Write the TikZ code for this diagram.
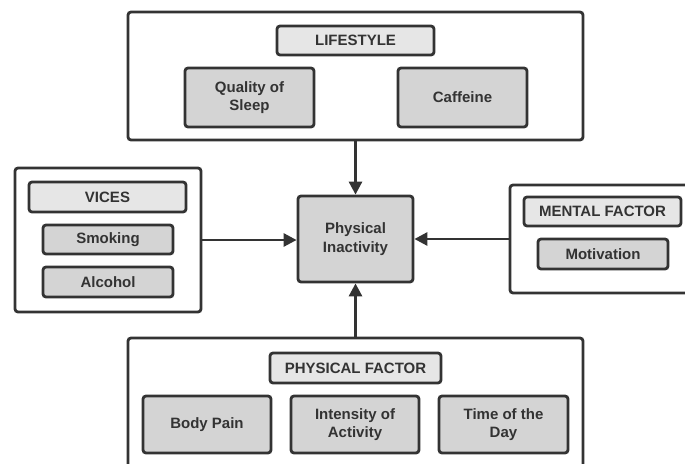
\documentclass[tikz,border=0pt]{standalone}
\usepackage{fontspec}
\setmainfont{Liberation Sans}
\usetikzlibrary{arrows.meta}
\definecolor{linegray}{HTML}{333333}
\definecolor{labelfill}{HTML}{E6E6E6}
\definecolor{itemfill}{HTML}{D4D4D4}
\begin{document}
\begin{tikzpicture}[x=1pt,y=-1pt]
			\tikzstyle{every node}+=[inner sep=0pt, align=center, text=linegray, font=\fontsize{15}{18.5}\selectfont\bfseries]
			\tikzstyle{outerbox}=[draw=linegray, line width=2.8pt, rounded corners=3pt, fill=white]
			\tikzstyle{labelbox}=[draw=linegray, line width=2.8pt, rounded corners=3pt, fill=labelfill]
			\tikzstyle{itembox}=[draw=linegray, line width=2.8pt, rounded corners=3pt, fill=itemfill]
			\tikzstyle{link}=[draw=linegray, line width=2.8pt, -{Triangle[length=13pt,width=13pt]}]
			\clip (0,0) rectangle (685,463);
			\fill [white] (0,0) rectangle (685,463);
			% lifestyle
			\node [outerbox, minimum width=455pt, minimum height=128pt] (life) at (355.5,76) {};
			\node [labelbox, minimum width=157pt, minimum height=29pt] (lifelabel) at (355.5,40.5) {LIFESTYLE};
			\node [itembox, minimum width=129pt, minimum height=59pt] (sleep) at (249.5,97.5) {Quality of\\Sleep};
			\node [itembox, minimum width=129pt, minimum height=59pt] (caffeine) at (462.5,97.5) {Caffeine};
			% centre
			\node [itembox, minimum width=115pt, minimum height=86pt] (inact) at (355.5,239) {Physical\\Inactivity};
			% vices
			\node [outerbox, minimum width=186pt, minimum height=144pt] (vices) at (108,240) {};
			\node [labelbox, minimum width=157pt, minimum height=30pt] (viceslabel) at (107.5,197) {VICES};
			\node [itembox, minimum width=130pt, minimum height=29pt] (smoking) at (108,239.5) {Smoking};
			\node [itembox, minimum width=130pt, minimum height=30pt] (alcohol) at (108,282) {Alcohol};
			% mental factor
			\node [outerbox, minimum width=182pt, minimum height=108pt] (mental) at (601,239) {};
			\node [labelbox, minimum width=157pt, minimum height=29pt] (mentallabel) at (602.5,211.5) {MENTAL FACTOR};
			\node [itembox, minimum width=130pt, minimum height=30pt] (motivation) at (603,254) {Motivation};
			% physical factor
			\node [outerbox, minimum width=455pt, minimum height=132pt] (phys) at (355.5,404) {};
			\node [labelbox, minimum width=171pt, minimum height=30pt] (physlabel) at (355.5,368) {PHYSICAL FACTOR};
			\node [itembox, minimum width=128pt, minimum height=57pt] (bodypain) at (207,424.5) {Body Pain};
			\node [itembox, minimum width=128pt, minimum height=57pt] (intensity) at (355,424.5) {Intensity of\\Activity};
			\node [itembox, minimum width=129pt, minimum height=57pt] (timeday) at (503.5,424.5) {Time of the\\Day};
			% arrows
			\draw [link] (life.south) -- (inact.north);
			\draw [link] (vices.east) -- (vices.east -| inact.west);
			\draw [link] (mental.west) -- (mental.west -| inact.east);
			\draw [link] (phys.north) -- (inact.south);
		\end{tikzpicture}
\end{document}
